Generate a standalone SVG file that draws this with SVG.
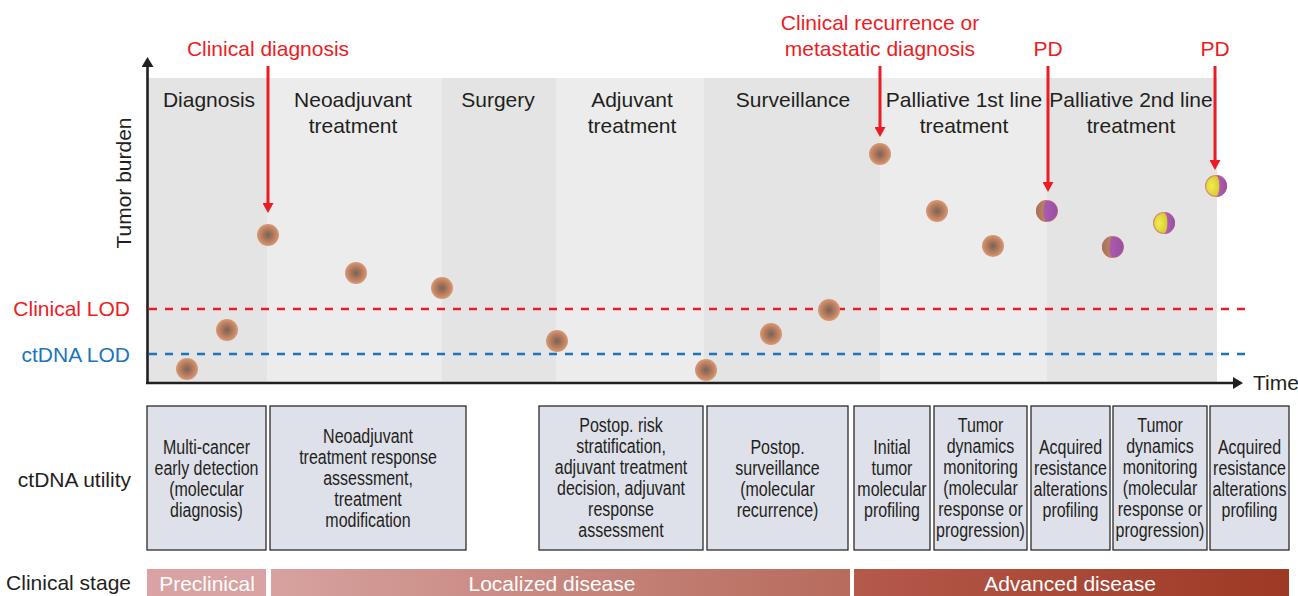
<svg xmlns="http://www.w3.org/2000/svg" width="1298" height="596" viewBox="0 0 1298 596">
  <defs>
    <style>
      text { font-family: "Liberation Sans", Arial, sans-serif; fill: #231f20; }
      .lbl { font-size: 21px; text-anchor: middle; }
      .side { font-size: 21px; text-anchor: end; }
      .red { fill: #ed1c24; }
      .blue { fill: #1b75bb; }
      .white { fill: #ffffff; }
      .box { fill: #dfe1ea; stroke: #2b2b2b; stroke-width: 1.3; }
      .boxtxt text { font-size: 19.5px; text-anchor: middle; }
      .bandA { fill: #e4e4e4; }
      .bandB { fill: #ececec; }
      .dot { fill: url(#dotFill); }
      .axis { stroke: #231f20; stroke-width: 2.6; fill: none; }
      .callout { stroke: #ed1c24; stroke-width: 3; fill: none; marker-end: url(#redHead); }
      .lod { stroke-width: 2.5; stroke-dasharray: 8 8; fill: none; }
    </style>
    <radialGradient id="dotFill" cx="0.5" cy="0.5" r="0.5">
      <stop offset="0" stop-color="#76625a"/>
      <stop offset="0.35" stop-color="#9e725b"/>
      <stop offset="0.75" stop-color="#c88662"/>
      <stop offset="1" stop-color="#d49c7c"/>
    </radialGradient>
    <linearGradient id="brownHalf" x1="0" y1="0" x2="1" y2="0">
      <stop offset="0" stop-color="#a47258"/>
      <stop offset="1" stop-color="#c4875f"/>
    </linearGradient>
    <linearGradient id="purpleHalf" x1="0" y1="0" x2="1" y2="0">
      <stop offset="0" stop-color="#b463b4"/>
      <stop offset="1" stop-color="#9a4ea2"/>
    </linearGradient>
    <radialGradient id="yellowHalf" cx="0.4" cy="0.5" r="0.6">
      <stop offset="0" stop-color="#f2ec55"/>
      <stop offset="1" stop-color="#d6cc2e"/>
    </radialGradient>
    <linearGradient id="localGrad" x1="0" y1="0" x2="1" y2="0">
      <stop offset="0" stop-color="#d7a29f"/>
      <stop offset="1" stop-color="#b76b5c"/>
    </linearGradient>
    <linearGradient id="advGrad" x1="0" y1="0" x2="1" y2="0">
      <stop offset="0" stop-color="#b5594b"/>
      <stop offset="1" stop-color="#9d3924"/>
    </linearGradient>
    <marker id="redHead" markerUnits="userSpaceOnUse" viewBox="0 0 10 11" refX="0" refY="5.5" markerWidth="10" markerHeight="11" orient="auto">
      <path d="M0,0 L10,5.5 L0,11 Z" fill="#ed1c24"/>
    </marker>
    <marker id="axisHead" markerUnits="userSpaceOnUse" viewBox="0 0 10 12" refX="0" refY="6" markerWidth="10" markerHeight="12" orient="auto">
      <path d="M0,0 L10,6 L0,12 Z" fill="#231f20"/>
    </marker>
    <!-- resistant clone: brown / purple -->
    <g id="dotBP">
      <circle r="11" fill="#cf8b62"/>
      <circle r="10.6" fill="url(#purpleHalf)"/>
      <path d="M0,-11 A11,11 0 0 0 0,11 A3.5,11 0 0 1 0,-11 Z" fill="url(#brownHalf)"/>
    </g>
    <!-- resistant clone: yellow / purple -->
    <g id="dotYP">
      <circle r="11" fill="#cf8b62"/>
      <path d="M0,-10 A10,10 0 0 0 0,10 A3.5,10 0 0 0 0,-10 Z" fill="url(#yellowHalf)"/>
      <path d="M0,-11 A11,11 0 0 1 0,11 A3.5,11 0 0 0 0,-11 Z" fill="url(#purpleHalf)"/>
    </g>
  </defs>

  <rect width="1298" height="596" fill="#ffffff"/>

  <!-- treatment phases -->
  <g id="phase-diagnosis">
    <rect class="bandA" x="148" y="78" width="119" height="304"/>
    <text class="lbl" x="209" y="107">Diagnosis</text>
  </g>
  <g id="phase-neoadjuvant">
    <rect class="bandB" x="267" y="78" width="175" height="304"/>
    <text class="lbl" x="353" y="107">Neoadjuvant</text>
    <text class="lbl" x="353" y="133">treatment</text>
  </g>
  <g id="phase-surgery">
    <rect class="bandA" x="442" y="78" width="114" height="304"/>
    <text class="lbl" x="498" y="107">Surgery</text>
  </g>
  <g id="phase-adjuvant">
    <rect class="bandB" x="556" y="78" width="148" height="304"/>
    <text class="lbl" x="632" y="107">Adjuvant</text>
    <text class="lbl" x="632" y="133">treatment</text>
  </g>
  <g id="phase-surveillance">
    <rect class="bandA" x="704" y="78" width="176" height="304"/>
    <text class="lbl" x="793" y="107">Surveillance</text>
  </g>
  <g id="phase-palliative-1">
    <rect class="bandB" x="880" y="78" width="167" height="304"/>
    <text class="lbl" x="964" y="107">Palliative 1st line</text>
    <text class="lbl" x="964" y="133">treatment</text>
  </g>
  <g id="phase-palliative-2">
    <rect class="bandA" x="1047" y="78" width="170" height="304"/>
    <text class="lbl" x="1131" y="107">Palliative 2nd line</text>
    <text class="lbl" x="1131" y="133">treatment</text>
  </g>

  <!-- limits of detection -->
  <g id="lod">
    <line class="lod" x1="149" y1="309" x2="1245" y2="309" stroke="#ed1c24"/>
    <line class="lod" x1="149" y1="354" x2="1245" y2="354" stroke="#1b75bb"/>
    <text class="side red" x="130" y="316">Clinical LOD</text>
    <text class="side blue" x="130" y="362">ctDNA LOD</text>
  </g>

  <!-- axes -->
  <g id="axes">
    <line class="axis" x1="147.5" y1="384" x2="147.5" y2="67" marker-end="url(#axisHead)"/>
    <line class="axis" x1="146" y1="383" x2="1233" y2="383" marker-end="url(#axisHead)"/>
    <text x="1253" y="390" font-size="21">Time</text>
    <text class="lbl" transform="translate(131,183) rotate(-90)">Tumor burden</text>
  </g>

  <!-- tumor burden over time -->
  <g id="burden-points">
    <circle class="dot" cx="187" cy="369" r="11"/>
    <circle class="dot" cx="227" cy="330" r="11"/>
    <circle class="dot" cx="268" cy="235" r="11"/>
    <circle class="dot" cx="356" cy="273" r="11"/>
    <circle class="dot" cx="442" cy="288" r="11"/>
    <circle class="dot" cx="557" cy="341" r="11"/>
    <circle class="dot" cx="706" cy="370" r="11"/>
    <circle class="dot" cx="771" cy="334" r="11"/>
    <circle class="dot" cx="829" cy="310" r="11"/>
    <circle class="dot" cx="880" cy="154" r="11"/>
    <circle class="dot" cx="937" cy="211" r="11"/>
    <circle class="dot" cx="993" cy="246" r="11"/>
    <use href="#dotBP" x="1047" y="211"/>
    <use href="#dotBP" x="1113" y="247"/>
    <use href="#dotYP" x="1164" y="223"/>
    <use href="#dotYP" x="1216" y="186"/>
  </g>

  <!-- clinical events -->
  <g id="event-labels">
    <text class="lbl red" x="268" y="56">Clinical diagnosis</text>
    <text class="lbl red" x="880" y="30">Clinical recurrence or</text>
    <text class="lbl red" x="880" y="56">metastatic diagnosis</text>
    <text class="lbl red" x="1048" y="56">PD</text>
    <text class="lbl red" x="1215" y="56">PD</text>
  </g>
  <g id="connectors">
    <line class="callout" x1="268" y1="66" x2="268" y2="203"/>
    <line class="callout" x1="880" y1="66" x2="880" y2="127"/>
    <line class="callout" x1="1048" y1="66" x2="1048" y2="182"/>
    <line class="callout" x1="1215" y1="66" x2="1215" y2="160"/>
  </g>

  <!-- ctDNA utility (box captions set in a condensed width) -->
  <text class="side" x="131" y="487">ctDNA utility</text>
  <g id="utility-mced">
    <rect class="box" x="147" y="406" width="119" height="144"/>
    <g class="boxtxt" transform="translate(206.5 0) scale(0.82 1)">
      <text x="0" y="454">Multi-cancer</text>
      <text x="0" y="475">early detection</text>
      <text x="0" y="496">(molecular</text>
      <text x="0" y="517">diagnosis)</text>
    </g>
  </g>
  <g id="utility-neoadjuvant">
    <rect class="box" x="270" y="406" width="196" height="144"/>
    <g class="boxtxt" transform="translate(368 0) scale(0.82 1)">
      <text x="0" y="443">Neoadjuvant</text>
      <text x="0" y="464">treatment response</text>
      <text x="0" y="485">assessment,</text>
      <text x="0" y="506">treatment</text>
      <text x="0" y="527">modification</text>
    </g>
  </g>
  <g id="utility-postop-risk">
    <rect class="box" x="539" y="406" width="164" height="144"/>
    <g class="boxtxt" transform="translate(621 0) scale(0.82 1)">
      <text x="0" y="432">Postop. risk</text>
      <text x="0" y="453">stratification,</text>
      <text x="0" y="474">adjuvant treatment</text>
      <text x="0" y="495">decision, adjuvant</text>
      <text x="0" y="516">response</text>
      <text x="0" y="537">assessment</text>
    </g>
  </g>
  <g id="utility-surveillance">
    <rect class="box" x="707" y="406" width="141" height="144"/>
    <g class="boxtxt" transform="translate(777.5 0) scale(0.82 1)">
      <text x="0" y="454">Postop.</text>
      <text x="0" y="475">surveillance</text>
      <text x="0" y="496">(molecular</text>
      <text x="0" y="517">recurrence)</text>
    </g>
  </g>
  <g id="utility-initial-profiling">
    <rect class="box" x="854" y="406" width="76" height="144"/>
    <g class="boxtxt" transform="translate(892 0) scale(0.82 1)">
      <text x="0" y="454">Initial</text>
      <text x="0" y="475">tumor</text>
      <text x="0" y="496">molecular</text>
      <text x="0" y="517">profiling</text>
    </g>
  </g>
  <g id="utility-dynamics-1">
    <rect class="box" x="934" y="406" width="93" height="144"/>
    <g class="boxtxt" transform="translate(980.5 0) scale(0.82 1)">
      <text x="0" y="432">Tumor</text>
      <text x="0" y="453">dynamics</text>
      <text x="0" y="474">monitoring</text>
      <text x="0" y="495">(molecular</text>
      <text x="0" y="516">response or</text>
      <text x="0" y="537">progression)</text>
    </g>
  </g>
  <g id="utility-resistance-1">
    <rect class="box" x="1031" y="406" width="79" height="144"/>
    <g class="boxtxt" transform="translate(1070.5 0) scale(0.82 1)">
      <text x="0" y="454">Acquired</text>
      <text x="0" y="475">resistance</text>
      <text x="0" y="496">alterations</text>
      <text x="0" y="517">profiling</text>
    </g>
  </g>
  <g id="utility-dynamics-2">
    <rect class="box" x="1113" y="406" width="94" height="144"/>
    <g class="boxtxt" transform="translate(1160 0) scale(0.82 1)">
      <text x="0" y="432">Tumor</text>
      <text x="0" y="453">dynamics</text>
      <text x="0" y="474">monitoring</text>
      <text x="0" y="495">(molecular</text>
      <text x="0" y="516">response or</text>
      <text x="0" y="537">progression)</text>
    </g>
  </g>
  <g id="utility-resistance-2">
    <rect class="box" x="1210" y="406" width="79" height="144"/>
    <g class="boxtxt" transform="translate(1249.5 0) scale(0.82 1)">
      <text x="0" y="454">Acquired</text>
      <text x="0" y="475">resistance</text>
      <text x="0" y="496">alterations</text>
      <text x="0" y="517">profiling</text>
    </g>
  </g>

  <!-- clinical stage -->
  <text class="side" x="131" y="590">Clinical stage</text>
  <g id="stage-preclinical">
    <rect x="147" y="569" width="119" height="27" fill="#d8a3a2"/>
    <text class="lbl white" x="207" y="591">Preclinical</text>
  </g>
  <g id="stage-localized">
    <rect x="271" y="569" width="579" height="27" fill="url(#localGrad)"/>
    <text class="lbl white" x="552" y="591">Localized disease</text>
  </g>
  <g id="stage-advanced">
    <rect x="854" y="569" width="435" height="27" fill="url(#advGrad)"/>
    <text class="lbl white" x="1070" y="591">Advanced disease</text>
  </g>
</svg>
